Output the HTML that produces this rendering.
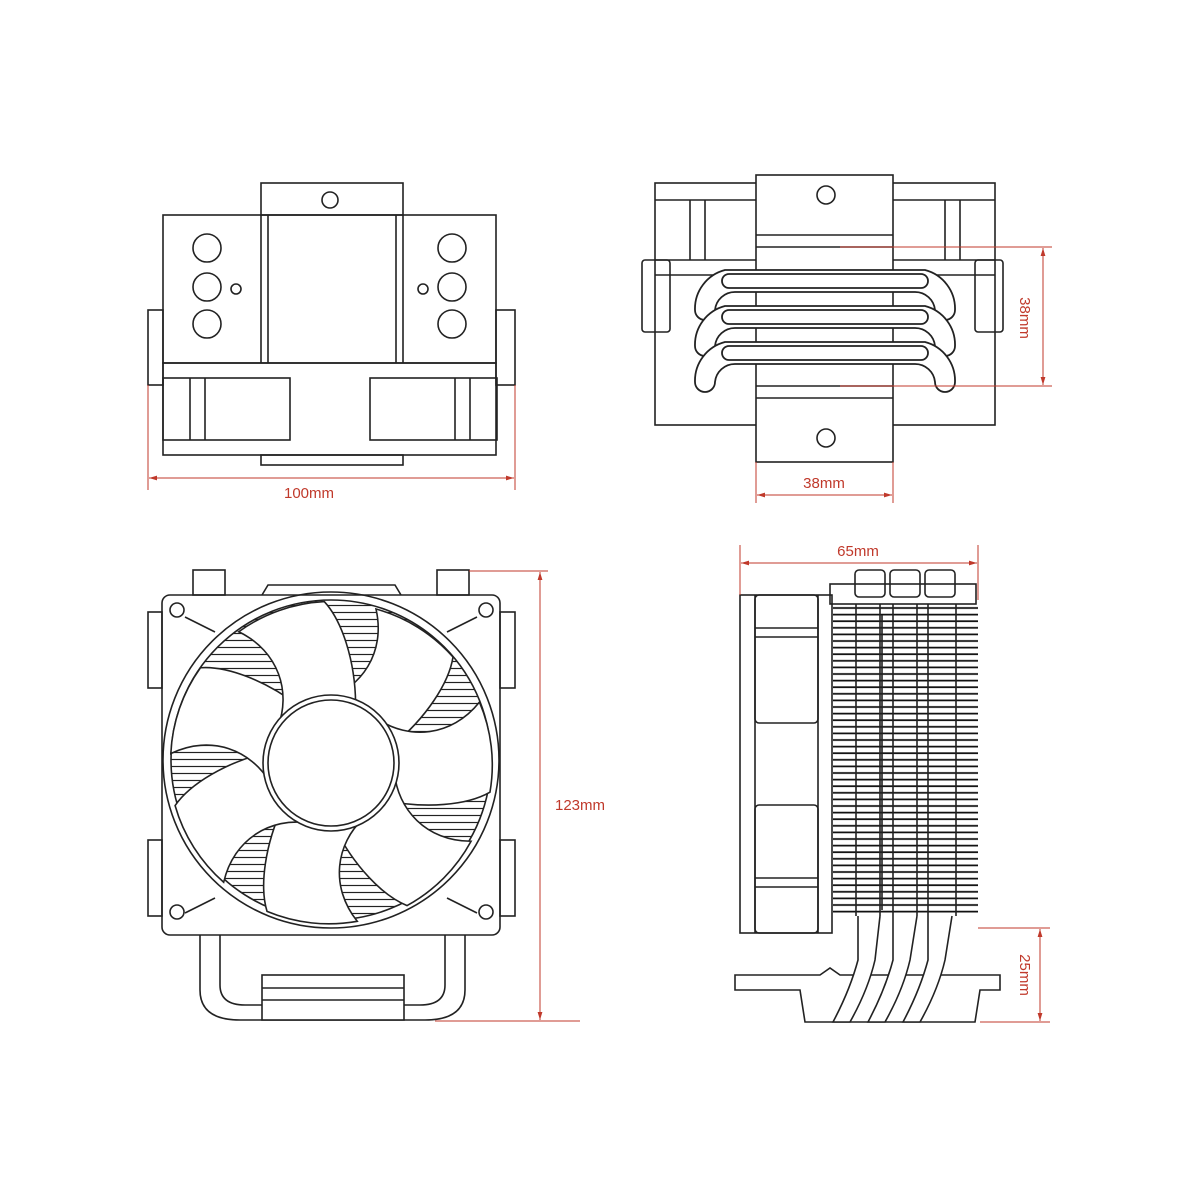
<!DOCTYPE html>
<html><head><meta charset="utf-8"><style>
html,body{margin:0;padding:0;background:#fff;}
svg{display:block;}
text{font-family:"Liberation Sans",sans-serif;font-size:15px;fill:#c0392b;}
</style></head><body>
<svg width="1200" height="1200" viewBox="0 0 1200 1200" xmlns="http://www.w3.org/2000/svg">
<defs>
<pattern id="hatch" width="10" height="7" patternUnits="userSpaceOnUse"><line x1="0" y1="3.5" x2="10" y2="3.5" stroke="#222" stroke-width="1.2"/></pattern>
<pattern id="fins" width="200" height="6.6" patternUnits="userSpaceOnUse" x="0" y="605"><line x1="0" y1="3" x2="200" y2="3" stroke="#111" stroke-width="1.8"/></pattern>
<marker id="ar" viewBox="0 0 10 10" refX="10" refY="5" markerWidth="8" markerHeight="8" orient="auto-start-reverse"><path d="M0,2 L10,5 L0,8 z" fill="#c0392b"/></marker>
</defs>
<g fill="none" stroke="#222" stroke-width="1.6">
<!-- TOP LEFT VIEW -->
<rect x="261" y="183" width="142" height="32"/>
<circle cx="330" cy="200" r="8"/>
<rect x="163" y="215" width="333" height="148"/>
<line x1="261" y1="215" x2="261" y2="363"/><line x1="403" y1="215" x2="403" y2="363"/>
<line x1="268" y1="215" x2="268" y2="363"/><line x1="396" y1="215" x2="396" y2="363"/>
<circle cx="207" cy="248" r="14"/><circle cx="207" cy="287" r="14"/><circle cx="207" cy="324" r="14"/>
<circle cx="452" cy="248" r="14"/><circle cx="452" cy="287" r="14"/><circle cx="452" cy="324" r="14"/>
<circle cx="236" cy="289" r="5"/><circle cx="423" cy="289" r="5"/>
<rect x="148" y="310" width="15" height="75"/><rect x="496" y="310" width="19" height="75"/>
<rect x="163" y="363" width="333" height="92"/>
<rect x="163" y="378" width="127" height="62"/><line x1="190" y1="378" x2="190" y2="440"/><line x1="205" y1="378" x2="205" y2="440"/>
<rect x="370" y="378" width="127" height="62"/><line x1="455" y1="378" x2="455" y2="440"/><line x1="470" y1="378" x2="470" y2="440"/>
<rect x="261" y="455" width="142" height="10"/>
<!-- TOP RIGHT VIEW -->
<rect x="655" y="183" width="340" height="242"/>
<line x1="655" y1="200" x2="995" y2="200"/>
<line x1="690" y1="200" x2="690" y2="260"/><line x1="705" y1="200" x2="705" y2="260"/>
<line x1="945" y1="200" x2="945" y2="260"/><line x1="960" y1="200" x2="960" y2="260"/>
<line x1="655" y1="260" x2="995" y2="260"/>
<rect x="642" y="260" width="28" height="72" rx="3"/><rect x="975" y="260" width="28" height="72" rx="3"/>
<line x1="655" y1="275" x2="995" y2="275"/>
<rect x="756" y="175" width="137" height="287" fill="#fff"/>
<circle cx="826" cy="195" r="9"/><circle cx="826" cy="438" r="9"/>
<line x1="756" y1="235" x2="893" y2="235"/><line x1="756" y1="247" x2="893" y2="247"/>
<line x1="756" y1="386" x2="893" y2="386"/><line x1="756" y1="398" x2="893" y2="398"/>
<g stroke-width="1.8" fill="#fff">
<path d="M725,270 L925,270 A40,40 0 0 1 955,310 A10,10 0 0 1 935,310 A20,20 0 0 0 915,292 L735,292 A20,20 0 0 0 715,310 A10,10 0 0 1 695,310 A40,40 0 0 1 725,270 Z"/>
<path d="M725,306 L925,306 A40,40 0 0 1 955,346 A10,10 0 0 1 935,346 A20,20 0 0 0 915,328 L735,328 A20,20 0 0 0 715,346 A10,10 0 0 1 695,346 A40,40 0 0 1 725,306 Z"/>
<path d="M725,342 L925,342 A40,40 0 0 1 955,382 A10,10 0 0 1 935,382 A20,20 0 0 0 915,364 L735,364 A20,20 0 0 0 715,382 A10,10 0 0 1 695,382 A40,40 0 0 1 725,342 Z"/>
<rect x="722" y="274" width="206" height="14" rx="7"/><rect x="722" y="310" width="206" height="14" rx="7"/><rect x="722" y="346" width="206" height="14" rx="7"/>
</g>
<!-- BOTTOM LEFT FAN VIEW -->
<rect x="193" y="570" width="32" height="25"/><rect x="437" y="570" width="32" height="25"/>
<path d="M262,595 L268,585 L395,585 L401,595"/>
<rect x="162" y="595" width="338" height="340" rx="8"/>
<line x1="185" y1="617" x2="215" y2="632"/><line x1="477" y1="617" x2="447" y2="632"/>
<line x1="185" y1="913" x2="215" y2="898"/><line x1="477" y1="913" x2="447" y2="898"/>
<rect x="148" y="612" width="14" height="76"/><rect x="148" y="840" width="14" height="76"/>
<rect x="500" y="612" width="15" height="76"/><rect x="500" y="840" width="15" height="76"/>
<circle cx="331" cy="760" r="168"/>
<circle cx="331" cy="760" r="160" fill="url(#hatch)"/>
<g fill="#fff" transform="translate(331,763)">
<g id="bl"><path d="M62,-18 C95,-45 118,-80 122,-106 A160,160 0 0 0 45,-154 C55,-110 30,-75 -5,-64 Z"/></g>
<use href="#bl" transform="rotate(51.4)"/><use href="#bl" transform="rotate(102.9)"/><use href="#bl" transform="rotate(154.3)"/>
<use href="#bl" transform="rotate(205.7)"/><use href="#bl" transform="rotate(257.1)"/><use href="#bl" transform="rotate(308.6)"/>
<circle cx="0" cy="0" r="68"/><circle cx="0" cy="0" r="63"/>
</g>
<circle cx="177" cy="610" r="7"/><circle cx="486" cy="610" r="7"/><circle cx="177" cy="912" r="7"/><circle cx="486" cy="912" r="7"/>
<path d="M200,935 L200,990 Q200,1020 240,1020 L425,1020 Q465,1020 465,990 L465,935"/>
<path d="M220,935 L220,985 Q220,1005 245,1005 L420,1005 Q445,1005 445,985 L445,935"/>
<rect x="262" y="975" width="142" height="45" fill="#fff"/><line x1="262" y1="988" x2="404" y2="988"/><line x1="262" y1="1000" x2="404" y2="1000"/>
<!-- BOTTOM RIGHT SIDE VIEW -->
<rect x="740" y="595" width="92" height="338"/>
<line x1="755" y1="595" x2="755" y2="933"/><line x1="818" y1="595" x2="818" y2="933"/>
<rect x="755" y="595" width="63" height="128" rx="4"/><line x1="755" y1="628" x2="818" y2="628"/><line x1="755" y1="637" x2="818" y2="637"/>
<rect x="755" y="805" width="63" height="128" rx="4"/><line x1="755" y1="878" x2="818" y2="878"/><line x1="755" y1="887" x2="818" y2="887"/>
<rect x="855" y="570" width="30" height="27" rx="4"/><rect x="890" y="570" width="30" height="27" rx="4"/><rect x="925" y="570" width="30" height="27" rx="4"/>
<rect x="830" y="584" width="146" height="20"/>
<rect x="833" y="604" width="145" height="312" fill="url(#fins)" stroke="none"/>
<line x1="856" y1="604" x2="856" y2="916"/><line x1="880" y1="604" x2="880" y2="916"/>
<line x1="893" y1="604" x2="893" y2="916"/><line x1="917" y1="604" x2="917" y2="916"/>
<line x1="928" y1="604" x2="928" y2="916"/><line x1="956" y1="604" x2="956" y2="916"/>
<line x1="882" y1="615" x2="882" y2="910"/>
<path d="M735,975 L820,975 L830,968 L840,975 L1000,975 L1000,990 L980,990 L975,1022 L805,1022 L800,990 L735,990 Z" fill="#fff"/>
<g stroke-width="1.6" fill="#fff">
<path d="M858,916 L858,960 Q850,990 833,1022 L850,1022 Q868,990 875,960 L880,916"/>
<path d="M893,916 L893,960 Q885,990 868,1022 L885,1022 Q903,990 910,960 L917,916"/>
<path d="M928,916 L928,960 Q920,990 903,1022 L920,1022 Q938,990 945,960 L952,916"/>
</g>
</g>
<!-- DIMENSIONS -->
<g stroke="#c0392b" stroke-width="1" fill="none">
<line x1="148" y1="385" x2="148" y2="490"/><line x1="515" y1="385" x2="515" y2="490"/>
<line x1="149" y1="478" x2="514" y2="478" marker-start="url(#ar)" marker-end="url(#ar)"/>
<line x1="756" y1="462" x2="756" y2="503"/><line x1="893" y1="462" x2="893" y2="503"/>
<line x1="757" y1="495" x2="892" y2="495" marker-start="url(#ar)" marker-end="url(#ar)"/>
<line x1="840" y1="247" x2="1052" y2="247"/><line x1="840" y1="386" x2="1052" y2="386"/>
<line x1="1043" y1="248" x2="1043" y2="385" marker-start="url(#ar)" marker-end="url(#ar)"/>
<line x1="469" y1="571" x2="548" y2="571"/><line x1="435" y1="1021" x2="580" y2="1021"/>
<line x1="540" y1="572" x2="540" y2="1020" marker-start="url(#ar)" marker-end="url(#ar)"/>
<line x1="740" y1="545" x2="740" y2="595"/><line x1="978" y1="545" x2="978" y2="600"/>
<line x1="741" y1="563" x2="977" y2="563" marker-start="url(#ar)" marker-end="url(#ar)"/>
<line x1="978" y1="928" x2="1050" y2="928"/><line x1="980" y1="1022" x2="1050" y2="1022"/>
<line x1="1040" y1="929" x2="1040" y2="1021" marker-start="url(#ar)" marker-end="url(#ar)"/>
</g>
<text x="309" y="498" text-anchor="middle">100mm</text>
<text x="824" y="488" text-anchor="middle">38mm</text>
<text x="580" y="810" text-anchor="middle">123mm</text>
<text x="858" y="556" text-anchor="middle">65mm</text>
<text transform="translate(1020,318) rotate(90)" text-anchor="middle">38mm</text>
<text transform="translate(1020,975) rotate(90)" text-anchor="middle">25mm</text>
</svg>
</body></html>
